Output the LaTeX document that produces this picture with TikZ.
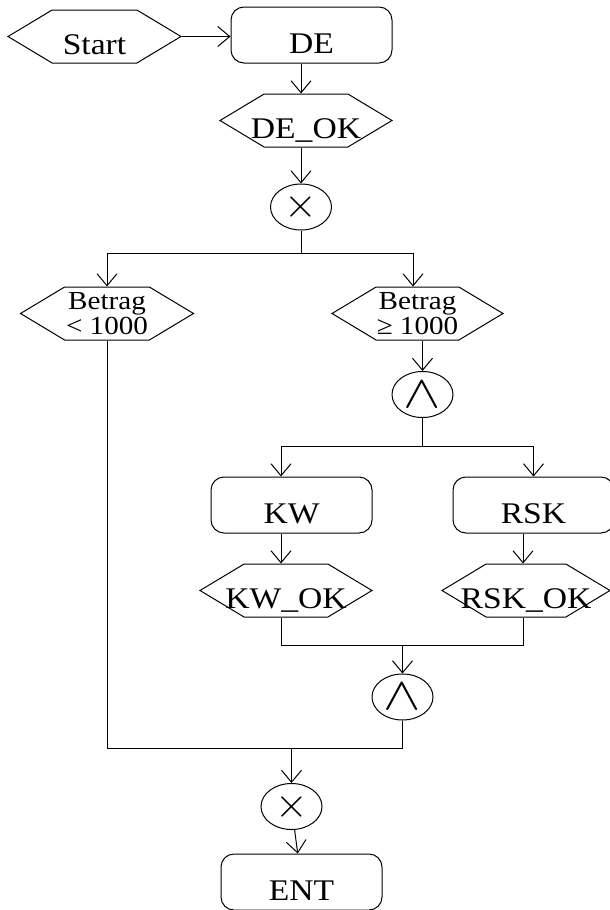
\documentclass[tikz,border=0pt]{standalone}
\usepackage{fontspec}
\setmainfont[FakeStretch=1.12]{Liberation Serif}
\usetikzlibrary{arrows.meta,shapes.geometric,shapes.symbols}
\tikzset{>/.tip={Straight Barb[length=12pt,width=20pt]},
  event/.style={draw, signal, signal to=west and east, signal pointer angle=62,
    minimum width=#1, minimum height=53pt, inner sep=0pt},
  event/.default=172pt,
  txt/.style={font=\fontsize{30}{30}\selectfont, text height=35pt, text depth=0pt},
  twoline/.style={font=\fontsize{26}{25}\selectfont, align=center},
  func/.style={draw, rounded corners=13pt, minimum width=161pt, minimum height=56pt,
    font=\fontsize{30}{30}\selectfont, text height=36pt, text depth=0pt},
  conn/.style={draw, ellipse, minimum width=61pt, minimum height=46pt, inner sep=0pt}
}
\newcommand{\xorsym}{\scalebox{4.2}{$\times$}}
\newcommand{\andsym}{\scalebox{5.6}[4.6]{$\wedge$}}

\begin{document}
\begin{tikzpicture}[x=1pt, y=-1pt, line width=1pt]
\useasboundingbox (0,0) rectangle (610,910);

\node[event=173pt, label={[txt]center:Start}] (start) at (94.5,36.5) {};
\node[func] (de) at (311.5,35) {DE};
\node[event, label={[txt]center:DE\_OK}] (deok) at (306,120.5) {};
\node[conn] (xor1) at (301,207) {\xorsym};
\node[event=173pt, label={[twoline]center:Betrag\\< 1000}] (lt) at (107,313.5) {};
\node[event=171pt, label={[twoline]center:Betrag\\≥ 1000}] (ge) at (417.5,313.5) {};
\node[conn] (and1) at (422.5,394.5) {\andsym};
\node[func] (kw) at (291.5,505) {KW};
\node[func] (rsk) at (533.5,505) {RSK};
\node[event, label={[txt]center:KW\_OK}] (kwok) at (286,590.5) {};
\node[event=168pt, label={[txt]center:RSK\_OK}] (rskok) at (526,590.5) {};
\node[conn] (and2) at (402.5,697) {\andsym};
\node[conn] (xor2) at (291.5,806.5) {\xorsym};
\node[func] (ent) at (301.5,882) {ENT};

% branch points
\coordinate (s1) at (301,253);
\coordinate (s2) at (422.5,446);
\coordinate (j1) at (402.5,645);
\coordinate (j2) at (291.5,748);

\draw[->] (start.east) to (start.east -| de.west);
\draw[->] (de.south -| xor1) to (deok.north -| xor1);
\draw[->] (deok.south -| xor1) to (xor1);
\draw (xor1) to (s1);
\draw[->] (s1) -| (lt);
\draw[->] (s1) -| ([xshift=-4.5pt]ge.north);
\draw[->] ([xshift=5pt]ge.south) to (and1);
\draw (and1) to (s2);
\draw[->] (s2) -| ([xshift=-10.5pt]kw.north);
\draw[->] (s2) -| (rsk);
\draw[->] ([xshift=-10.5pt]kw.south) to ([xshift=-5pt]kwok.north);
\draw[->] ([xshift=-10.5pt]rsk.south) to ([xshift=-3pt]rskok.north);
\draw ([xshift=-5pt]kwok.south) |- (j1);
\draw ([xshift=-3pt]rskok.south) |- (j1);
\draw[->] (j1) to (and2);
\draw (and2) |- (j2);
\draw (lt) |- (j2);
\draw[->] (j2) to (xor2);
\draw[->] (xor2) to (ent);
\end{tikzpicture}
\end{document}
